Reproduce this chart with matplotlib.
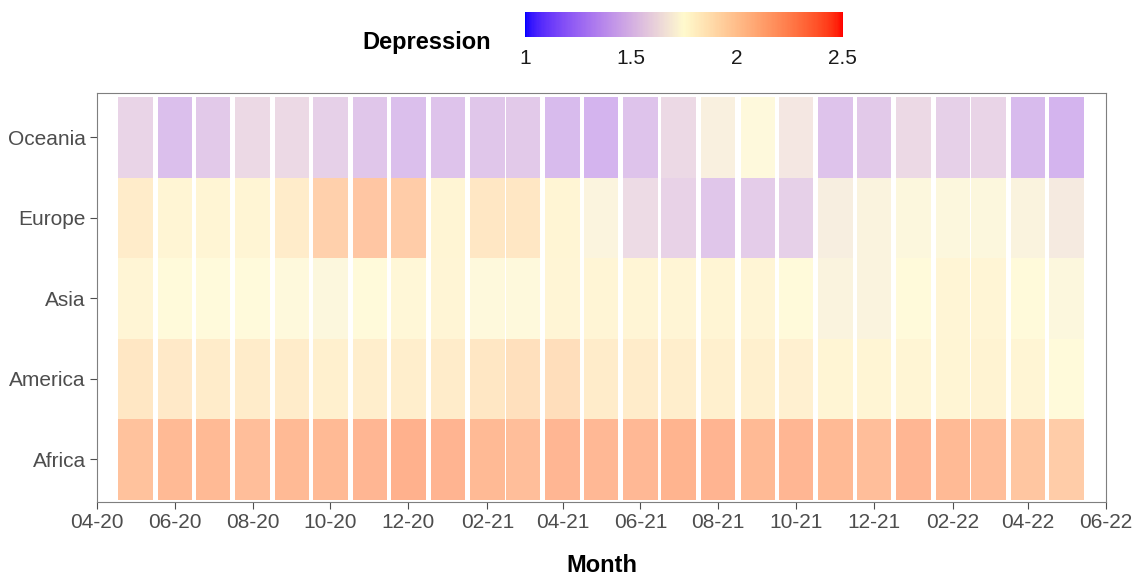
import matplotlib
matplotlib.use("Agg")
import matplotlib.pyplot as plt
import matplotlib.dates as mdates
from matplotlib.colors import ListedColormap, Normalize, to_rgb
from matplotlib.cm import ScalarMappable
import numpy as np
import pandas as pd

plt.rcParams["font.family"] = ["Liberation Sans", "DejaVu Sans"]

# monthly depression score per region, 05-2020 .. 05-2022
months = pd.date_range("2020-05-01", "2022-05-01", freq="MS")
regions = ["Africa", "America", "Asia", "Europe", "Oceania"]

africa = [2.08, 2.12, 2.12, 2.10, 2.12, 2.12, 2.14, 2.17, 2.15, 2.12, 2.10, 2.14, 2.13,
          2.13, 2.16, 2.15, 2.12, 2.14, 2.12, 2.10, 2.14, 2.12, 2.10, 2.06, 2.02]
america = [1.87, 1.85, 1.84, 1.84, 1.84, 1.82, 1.83, 1.83, 1.84, 1.87, 1.91, 1.92, 1.84,
           1.84, 1.83, 1.82, 1.82, 1.81, 1.79, 1.79, 1.79, 1.79, 1.80, 1.79, 1.76]
asia = [1.78, 1.76, 1.75, 1.75, 1.74, 1.73, 1.76, 1.77, 1.78, 1.74, 1.74, 1.78, 1.78,
        1.78, 1.78, 1.79, 1.78, 1.76, 1.71, 1.71, 1.76, 1.78, 1.78, 1.76, 1.73]
europe = [1.84, 1.79, 1.79, 1.79, 1.84, 2.00, 2.05, 2.02, 1.79, 1.87, 1.87, 1.79, 1.72,
          1.60, 1.56, 1.50, 1.53, 1.55, 1.69, 1.71, 1.73, 1.73, 1.73, 1.71, 1.67]
oceania = [1.57, 1.47, 1.52, 1.59, 1.59, 1.55, 1.50, 1.47, 1.49, 1.50, 1.52, 1.45, 1.42,
           1.49, 1.59, 1.70, 1.74, 1.66, 1.49, 1.52, 1.59, 1.55, 1.57, 1.45, 1.42]
values = [africa, america, asia, europe, oceania]


# ggplot-like gradient2 (Lab interpolation) blue -> cream -> red
def to_lab(rgb):
    c = np.asarray(rgb, float)
    c = np.where(c <= 0.04045, c / 12.92, ((c + 0.055) / 1.055) ** 2.4)
    m = np.array([[0.4124, 0.3576, 0.1805], [0.2126, 0.7152, 0.0722], [0.0193, 0.1192, 0.9505]])
    xyz = m @ c / np.array([0.95047, 1.0, 1.08883])
    f = np.where(xyz > 0.008856, np.cbrt(xyz), 7.787 * xyz + 16 / 116)
    return np.array([116 * f[1] - 16, 500 * (f[0] - f[1]), 200 * (f[1] - f[2])])


def from_lab(lab):
    L, a, b = lab
    fy = (L + 16) / 116
    fx = fy + a / 500
    fz = fy - b / 200
    f = np.array([fx, fy, fz])
    xyz = np.where(f > 0.2069, f ** 3, (f - 16 / 116) / 7.787) * np.array([0.95047, 1.0, 1.08883])
    m = np.array([[3.2406, -1.5372, -0.4986], [-0.9689, 1.8758, 0.0415], [0.0557, -0.2040, 1.0570]])
    c = np.clip(m @ xyz, 0, 1)
    c = np.where(c <= 0.0031308, 12.92 * c, 1.055 * c ** (1 / 2.4) - 0.055)
    return np.clip(c, 0, 1)


vmin, vmid, vmax = 1.0, 1.75, 2.5
low, mid, high = to_lab(to_rgb("blue")), to_lab(to_rgb("#FFFACD")), to_lab(to_rgb("red"))
cols = []
for v in np.linspace(vmin, vmax, 256):
    if v < vmid:
        t = (vmid - v) / (vmid - vmin)
        cols.append(from_lab(mid + t * (low - mid)))
    else:
        t = (v - vmid) / (vmax - vmid)
        cols.append(from_lab(mid + t * (high - mid)))
cmap = ListedColormap(cols)
norm = Normalize(vmin, vmax)

fig = plt.figure(figsize=(11.47, 5.76), dpi=100)
ax = fig.add_axes([0.0846, 0.1285, 0.8797, 0.71])

x = mdates.date2num(months.to_pydatetime())
for i, row in enumerate(values):
    ax.bar(x, 1, width=27, bottom=i - 0.5, color=cmap(norm(np.array(row))),
           alpha=0.7, linewidth=0, align="center")

ax.set_xlim(mdates.date2num(pd.Timestamp("2020-04-01")), mdates.date2num(pd.Timestamp("2022-06-01")))
ax.set_ylim(-0.53, 4.55)
ax.xaxis.set_major_locator(mdates.MonthLocator(bymonth=[2, 4, 6, 8, 10, 12]))
ax.xaxis.set_major_formatter(mdates.DateFormatter("%m-%y"))
ax.set_yticks(range(len(regions)))
ax.set_yticklabels(regions)
ax.tick_params(axis="both", labelsize=15, colors="#4d4d4d", length=5, width=0.8, pad=3)
for s in ax.spines.values():
    s.set_color("#7f7f7f")
    s.set_linewidth(0.8)
ax.set_xlabel("Month", fontsize=17, fontweight="bold", labelpad=16)

# colour bar on top
cax = fig.add_axes([0.4577, 0.9358, 0.2772, 0.0434])
cb = fig.colorbar(ScalarMappable(norm=norm, cmap=cmap), cax=cax, orientation="horizontal")
cb.set_ticks([1, 1.5, 2, 2.5])
cb.set_ticklabels(["1", "1.5", "2", "2.5"])
cb.outline.set_visible(False)
cax.tick_params(length=0, labelsize=15, pad=9, colors="#1a1a1a")
fig.text(0.372, 0.927, "Depression", fontsize=17, fontweight="bold", ha="center", va="center")

fig.savefig("out.png", dpi=100)
